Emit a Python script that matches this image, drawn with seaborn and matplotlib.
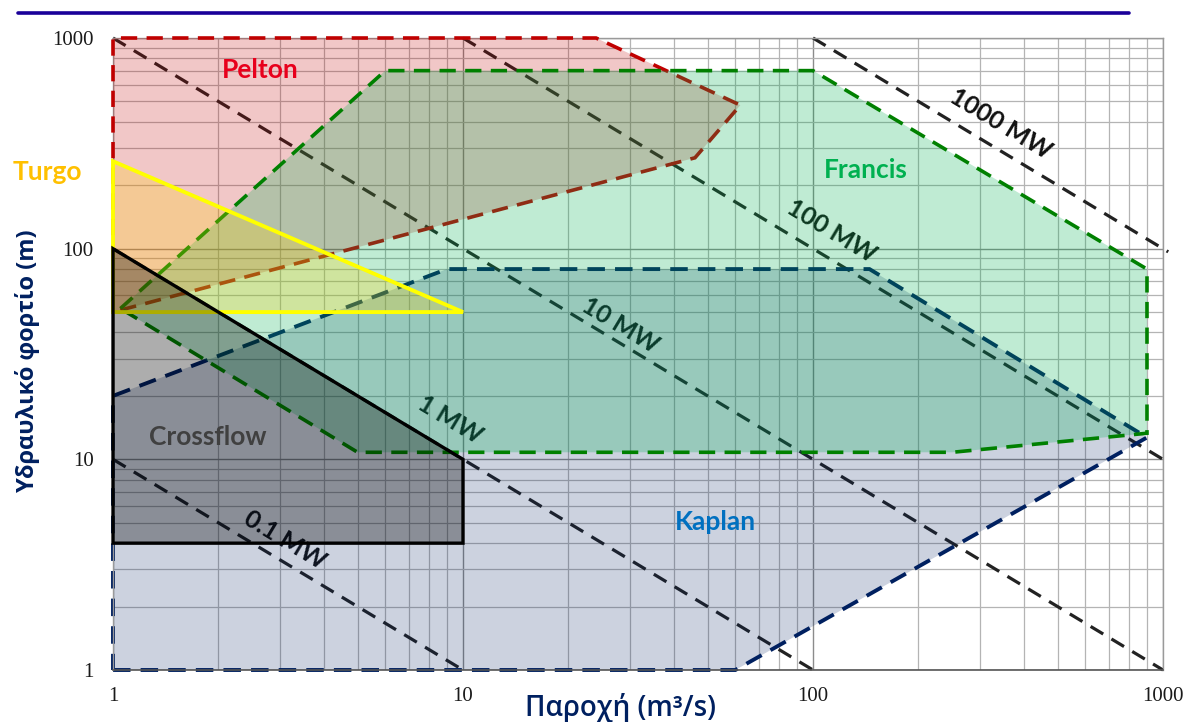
import matplotlib
matplotlib.use("Agg")
import matplotlib.pyplot as plt
import seaborn as sns
import pandas as pd
from matplotlib.ticker import LogLocator, NullFormatter, FixedLocator, FixedFormatter
from matplotlib.lines import Line2D

# ---- turbine application envelopes (flow Q in m3/s, head H in m) ----
kaplan_q = [1, 60, 900, 145, 9, 1]
kaplan_h = [1, 1, 12.7, 80, 80, 20]

pelton_q = [1, 1, 24, 62, 46]
pelton_h = [50, 1000, 1000, 480, 270]

francis_q = [1.05, 6, 100, 900, 900, 250, 5]
francis_h = [52, 700, 700, 80, 13.3, 10.8, 10.8]

turgo_q = [1, 10, 1]
turgo_h = [260, 50, 50]

crossflow_q = [1, 10, 10, 1]
crossflow_h = [100, 10, 4, 4]

# ---- iso-power lines (end points) ----
power_labels = ["0.1 MW", "1 MW", "10 MW", "100 MW", "1000 MW"]
power_q = [(1, 10), (1, 100), (1, 1000), (10, 1035), (100, 1035)]
power_h = [(10, 1), (100, 1), (1000, 1), (1000, 9.66), (1000, 96.6)]
power_label_q = [3.1, 9.2, 28.1, 112.7, 343]
power_label_h = [4.14, 15.4, 43.4, 121, 390]

# ---- axis ticks ----
tick_values = [1, 10, 100, 1000]
tick_labels = ["1", "10", "100", "1000"]

sns.set_theme(style="white")
plt.rcParams["font.family"] = ["Open Sans", "DejaVu Sans"]

fig = plt.figure(figsize=(11.94, 7.22), dpi=100)
ax = fig.add_axes([113 / 1194, 52 / 722, 1050 / 1194, 632 / 722])
ax.set_xscale("log")
ax.set_yscale("log")
ax.set_xlim(1, 1000)
ax.set_ylim(1, 1000)

# grid
ax.xaxis.set_minor_locator(LogLocator(base=10, subs=range(2, 10)))
ax.yaxis.set_minor_locator(LogLocator(base=10, subs=range(2, 10)))
ax.xaxis.set_minor_formatter(NullFormatter())
ax.yaxis.set_minor_formatter(NullFormatter())
ax.grid(which="major", color="#8c8c8c", lw=1.0, zorder=0)
ax.grid(which="minor", color="#b4b4b4", lw=0.9, zorder=0)
ax.set_axisbelow(True)

ax.xaxis.set_major_locator(FixedLocator(tick_values))
ax.xaxis.set_major_formatter(FixedFormatter(tick_labels))
ax.yaxis.set_major_locator(FixedLocator(tick_values))
ax.yaxis.set_major_formatter(FixedFormatter(tick_labels))
ax.tick_params(which="major", direction="out", length=5, width=1, color="#707070",
               pad=9, labelsize=15, labelcolor="#1a1a1a")
ax.tick_params(axis="x", pad=7)
ax.tick_params(which="minor", length=0)
for lab in ax.get_xticklabels() + ax.get_yticklabels():
    lab.set_fontfamily("Liberation Serif")

for side in ["top", "right", "left"]:
    ax.spines[side].set_color("#9a9a9a")
    ax.spines[side].set_linewidth(1.0)
ax.spines["bottom"].set_color("#555555")
ax.spines["bottom"].set_linewidth(1.2)

# iso-power lines drawn beneath the envelopes
ang = -31.0
for lab, qs, hs, lq, lh in zip(power_labels, power_q, power_h, power_label_q, power_label_h):
    df = pd.DataFrame({"Q": list(qs), "H": list(hs)})
    sns.lineplot(data=df, x="Q", y="H", ax=ax, sort=False, color="#222222", zorder=1.5)
    ln = ax.lines[-1]
    ln.set_linewidth(2.3)
    ln.set_dashes((4.6, 3.0))
    ln.set_clip_on(False)
    ax.text(lq, lh, lab, rotation=ang, rotation_mode="anchor", ha="center", va="center",
            fontsize=18, fontweight="bold", color="#111111", family=["Lato", "DejaVu Sans"],
            zorder=1.6)


def envelope(q, h, face, alpha, edge, ls, lw, z):
    ax.fill(q, h, facecolor=face, alpha=alpha, edgecolor="none", zorder=z)
    ax.fill(q, h, facecolor="none", edgecolor=edge, linestyle=ls, lw=lw, zorder=z + 0.01,
            clip_on=False, joinstyle="miter")


envelope(kaplan_q, kaplan_h, "#002060", 0.20, "#002060", (0, (4.5, 2.6)), 2.8, 2)
envelope(pelton_q, pelton_h, "#C00000", 0.22, "#C00000", (0, (4.5, 2.6)), 2.6, 3)
envelope(francis_q, francis_h, "#00B050", 0.25, "#008000", (0, (4.5, 2.6)), 2.6, 4)
envelope(turgo_q, turgo_h, "#FFD000", 0.25, "#FFFF00", "-", 2.8, 5)
envelope(crossflow_q, crossflow_h, "#000000", 0.32, "#000000", "-", 2.4, 6)

# envelope names
name_kw = dict(fontsize=19, fontweight="bold", ha="center", va="center",
               family=["Lato", "DejaVu Sans"], zorder=10)
ax.text(2.63, 705, "Pelton", color="#E8001C", **name_kw)
ax.text(0.648, 232, "Turgo", color="#FFC000", clip_on=False, **name_kw)
ax.text(142, 236, "Francis", color="#00B050", **name_kw)
ax.text(1.86, 12.8, "Crossflow", color="#404040", **name_kw)
ax.text(52.5, 5.04, "Kaplan", color="#0070C0", **name_kw)

# axis titles
ax.set_xlabel("Παροχή (m³/s)", fontsize=20, color="#002060", fontweight="semibold")
ax.set_ylabel("Υδραυλικό φορτίο (m)", fontsize=17, color="#002060", fontweight="bold",
              family=["Liberation Sans Narrow", "DejaVu Sans Condensed", "Open Sans"])
ax.xaxis.label.set_va("center")
ax.yaxis.label.set_va("center")
ax.xaxis.set_label_coords(0.483, -0.06)
ax.yaxis.set_label_coords(-0.081, 0.49)

# header rule
fig.add_artist(Line2D([18 / 1194, 1129 / 1194], [1 - 13 / 722, 1 - 13 / 722],
                      color="#1a0099", lw=2.6, transform=fig.transFigure))

fig.savefig("out.png", dpi=100)
